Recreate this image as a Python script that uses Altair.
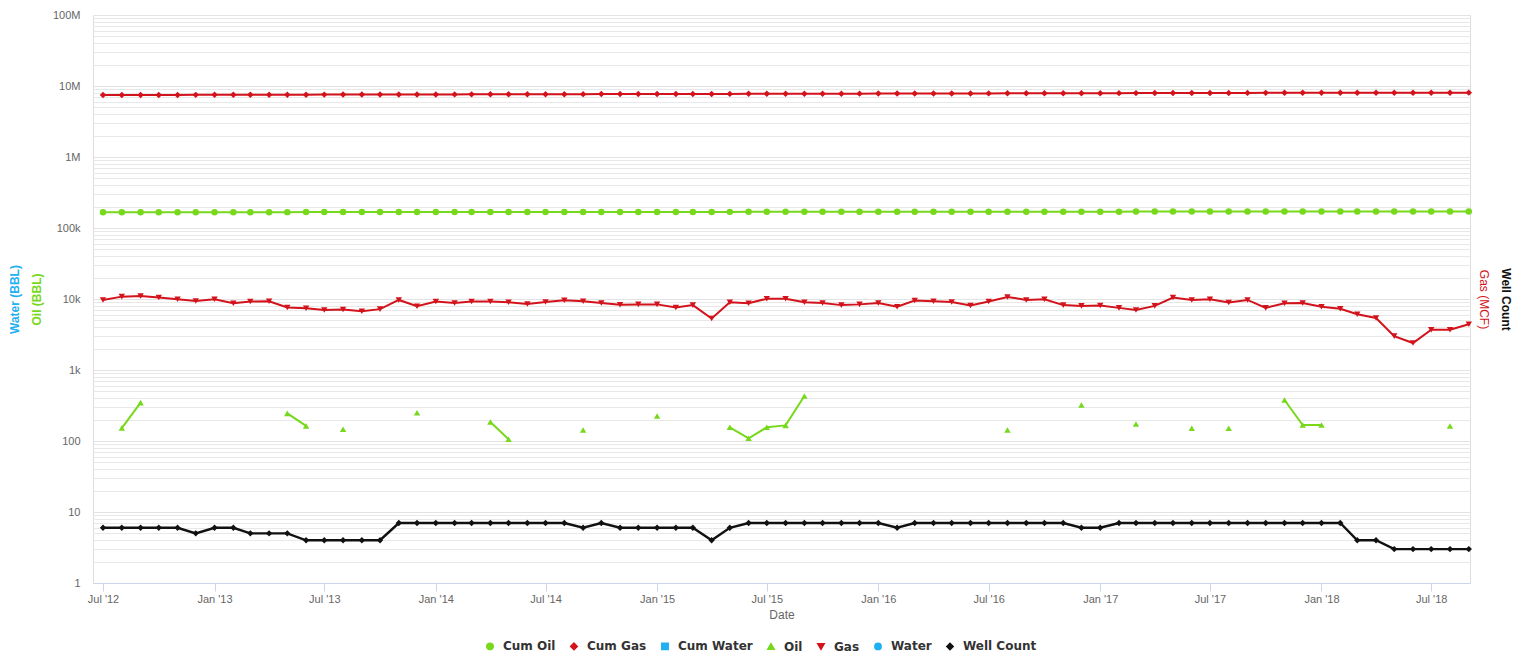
import altair as alt
import pandas as pd

# ---------------- data ----------------
months = pd.date_range("2012-07-01", periods=75, freq="MS")

series_names = ["Cum Oil", "Cum Gas", "Cum Water", "Oil", "Gas", "Water", "Well Count"]
series_colors = ["#77d81c", "#d3131b", "#1fb0f2", "#77d81c", "#d3131b", "#1fb0f2", "#111111"]
series_shapes = ["circle", "diamond", "square", "triangle-up", "triangle-down", "circle", "diamond"]
series_sizes = [42, 40, 42, 58, 58, 42, 38]

cum_oil = [
    166600, 166800, 167100, 167100, 167100, 167100, 167100, 167100, 167100, 167100,
    167300, 167500, 167500, 167600, 167600, 167600, 167600, 167900, 167900, 167900,
    167900, 168100, 168200, 168200, 168200, 168200, 168300, 168300, 168300, 168300,
    168500, 168500, 168500, 168500, 168700, 168800, 169000, 169100, 169600, 169600,
    169600, 169600, 169600, 169600, 169600, 169600, 169600, 169600, 169600, 169700,
    169700, 169700, 169700, 170000, 170000, 170000, 170200, 170200, 170200, 170400,
    170400, 170500, 170500, 170500, 170900, 171100, 171200, 171200, 171200, 171200,
    171200, 171200, 171200, 171400, 171400,
]

cum_gas = [
    7450000, 7461000, 7472000, 7482000, 7492000, 7502000, 7511000, 7520000, 7529000, 7539000,
    7546000, 7554000, 7561000, 7568000, 7574000, 7582000, 7591000, 7599000, 7608000, 7617000,
    7626000, 7636000, 7645000, 7653000, 7662000, 7672000, 7681000, 7690000, 7698000, 7706000,
    7715000, 7722000, 7731000, 7736000, 7745000, 7754000, 7764000, 7774000, 7783000, 7792000,
    7800000, 7808000, 7817000, 7825000, 7834000, 7844000, 7853000, 7861000, 7870000, 7881000,
    7890000, 7900000, 7909000, 7917000, 7925000, 7932000, 7939000, 7947000, 7958000, 7967000,
    7977000, 7986000, 7996000, 8003000, 8012000, 8021000, 8029000, 8036000, 8042000, 8047000,
    8050000, 8053000, 8056000, 8060000, 8064000,
]

oil = [
    None, 152, 347, None, None, None, None, None, None, None,
    245, 163, None, 146, None, None, None, 250, None, None,
    None, 185, 106, None, None, None, 143, None, None, None,
    225, None, None, None, 156, 109, 156, 166, 430, None,
    None, None, None, None, None, None, None, None, None, 143,
    None, None, None, 321, None, None, 174, None, None, 151,
    None, 151, None, None, 378, 168, 168, None, None, None,
    None, None, None, 163, None,
]

gas = [
    9700, 10800, 11000, 10500, 9900, 9400, 9900, 8700, 9200, 9300,
    7600, 7400, 7000, 7100, 6700, 7200, 9700, 7900, 9200, 8800,
    9200, 9200, 9000, 8500, 9100, 9600, 9300, 8800, 8300, 8400,
    8400, 7600, 8200, 5300, 9000, 8700, 10100, 10100, 9000, 8800,
    8200, 8400, 8800, 7800, 9500, 9300, 9100, 8100, 9200, 10700,
    9700, 9900, 8200, 8000, 8100, 7500, 7000, 8000, 10500, 9700,
    9900, 8900, 9700, 7500, 8700, 8800, 7800, 7300, 6100, 5400,
    3000, 2400, 3700, 3700, 4400,
]

well_count = [
    6, 6, 6, 6, 6, 5, 6, 6, 5, 5,
    5, 4, 4, 4, 4, 4, 7, 7, 7, 7,
    7, 7, 7, 7, 7, 7, 6, 7, 6, 6,
    6, 6, 6, 4, 6, 7, 7, 7, 7, 7,
    7, 7, 7, 6, 7, 7, 7, 7, 7, 7,
    7, 7, 7, 6, 6, 7, 7, 7, 7, 7,
    7, 7, 7, 7, 7, 7, 7, 7, 4, 4,
    3, 3, 3, 3, 3,
]

tick_years = [2012, 2013, 2014, 2015, 2016, 2017, 2018]
decades = [1, 10, 100, 1000, 10000, 100000, 1000000, 10000000, 100000000]

# ---------------- table ----------------
rows = []


def add(name, values):
    seg = 0
    for d, v in zip(months, values):
        if v is None:
            seg += 1
            continue
        rows.append({"date": d.strftime("%Y-%m-%d"), "series": name,
                     "value": v, "seg": f"{name}-{seg}"})


add("Cum Oil", cum_oil)
add("Cum Gas", cum_gas)
add("Oil", oil)
add("Gas", gas)
add("Well Count", well_count)
df = pd.DataFrame(rows)

minor_values = [d * m for d in decades[:-1] for m in range(2, 10)]
tick_values = [alt.DateTime(year=y, month=m, date=1, utc=True)
               for y in tick_years for m in (1, 7)
               if not (y == 2012 and m == 1)]

FONT = "Liberation Sans"

x_enc = alt.X(
    "date:T",
    scale=alt.Scale(type="utc", domain=[
        alt.DateTime(year=2012, month=6, date=14, hours=12, utc=True),
        alt.DateTime(year=2018, month=9, date=3, utc=True)]),
    axis=alt.Axis(values=tick_values,
                  labelExpr="utcFormat(datum.value, \"%b '%y\")",
                  title="Date", titleColor="#666666", titleFontSize=12,
                  titleFontWeight="normal", titlePadding=5,
                  labelColor="#666666", labelFontSize=11, labelPadding=2,
                  tickSize=8, tickColor="#ccd6eb", domainColor="#ccd6eb",
                  grid=False, labelFont=FONT, titleFont=FONT),
)

y_scale = alt.Scale(type="log", domain=[1, 100000000], nice=False)


def y_axis(**kw):
    base = dict(titleX=0, titleY=284, titleAlign="center", titleBaseline="middle",
                titleFontSize=12, titleFont=FONT, ticks=False, domain=False)
    base.update(kw)
    return alt.Axis(**base)


axis_oil = y_axis(orient="left", values=decades, format="~s", labelColor="#666666",
                  labelFontSize=11, labelPadding=13, labelFont=FONT, grid=True,
                  gridColor="#e3e3e3", title="Oil (BBL)", titleColor="#77d81c",
                  titleFontWeight="bold", titleAngle=270, titleX=-57)
axis_water = y_axis(orient="left", values=minor_values, labels=False, grid=True,
                    gridColor="#e8e8e8", title="Water (BBL)", titleColor="#1fb0f2",
                    titleFontWeight="bold", titleAngle=270, titleX=-79)
axis_gas = y_axis(orient="right", labels=False, grid=False, title="Gas (MCF)",
                  titleColor="#d3131b", titleFontWeight="normal", titleAngle=90, titleX=13)
axis_well = y_axis(orient="right", labels=False, grid=False, title="Well Count",
                   titleColor="#111111", titleFontWeight="bold", titleAngle=90, titleX=35)

color_scale = alt.Scale(domain=series_names, range=series_colors)
shape_scale = alt.Scale(domain=series_names, range=series_shapes)

legend = alt.Legend(title=None, orient="none", legendX=391, legendY=625,
                    direction="horizontal", labelFontSize=12, labelFontWeight="bold",
                    labelColor="#333333", labelFont="DejaVu Sans", symbolSize=60,
                    labelOffset=7, columnPadding=11, padding=0)

base = alt.Chart(df)
color_enc = alt.Color("series:N", scale=color_scale, legend=legend)

lines_left = base.transform_filter(
    alt.FieldOneOfPredicate(field="series", oneOf=["Cum Oil", "Cum Gas", "Oil"])
).mark_line(strokeWidth=2).encode(
    x=x_enc,
    y=alt.Y("value:Q", scale=y_scale, axis=axis_oil),
    color=color_enc,
    detail="seg:N",
)

lines_gas = base.transform_filter(alt.datum.series == "Gas").mark_line(strokeWidth=2).encode(
    x=x_enc,
    y=alt.Y("value:Q", scale=y_scale, axis=axis_gas),
    color=color_enc,
    detail="seg:N",
)

lines_well = base.transform_filter(alt.datum.series == "Well Count").mark_line(strokeWidth=2.4).encode(
    x=x_enc,
    y=alt.Y("value:Q", scale=y_scale, axis=axis_well),
    color=color_enc,
    detail="seg:N",
)

points = base.mark_point(filled=True, opacity=1).encode(
    x=x_enc,
    y=alt.Y("value:Q", scale=y_scale, axis=axis_water),
    color=color_enc,
    shape=alt.Shape("series:N", scale=shape_scale, legend=legend),
    size=alt.Size("series:N", scale=alt.Scale(domain=series_names, range=series_sizes), legend=None),
)

chart = alt.layer(lines_left, lines_gas, lines_well, points).resolve_scale(
    y="shared"
).resolve_axis(
    y="independent"
).properties(
    width=1377, height=568,
    autosize=alt.AutoSizeParams(type="none"),
    padding={"left": 85, "top": 7, "right": 50, "bottom": 75},
    background="white",
).configure_view(stroke=None).configure(font=FONT)

chart.save("out.html", embed_options={"renderer": "svg", "actions": False})
